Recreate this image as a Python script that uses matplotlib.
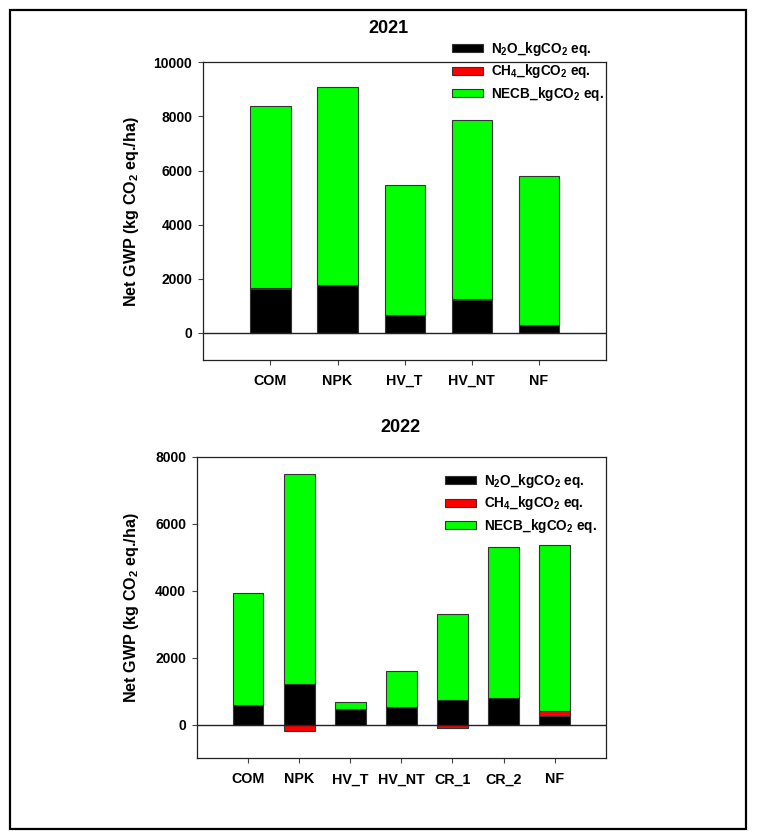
import matplotlib
matplotlib.use('Agg')
import matplotlib.pyplot as plt
from matplotlib.patches import Rectangle
import numpy as np

# values (kg CO2 eq./ha)
cats_2021 = ['COM', 'NPK', 'HV_T', 'HV_NT', 'NF']
n2o_2021 = [1640, 1770, 660, 1200, 300]
ch4_2021 = [20, 0, 0, 40, 10]
necb_2021 = [6730, 7320, 4800, 6630, 5480]

cats_2022 = ['COM', 'NPK', 'HV_T', 'HV_NT', 'CR_1', 'CR_2', 'NF']
n2o_2022 = [600, 1230, 480, 520, 740, 810, 250]
ch4_2022 = [0, -190, 0, 0, -100, 0, 150]
necb_2022 = [3340, 6250, 190, 1080, 2560, 4510, 4970]

labels = [r'N$_2$O_kgCO$_2$ eq.', r'CH$_4$_kgCO$_2$ eq.', r'NECB_kgCO$_2$ eq.']
colors = ['black', '#ff0000', '#00ff00']

plt.rcParams['font.family'] = 'Liberation Sans'
plt.rcParams['font.weight'] = 'bold'
plt.rcParams['mathtext.fontset'] = 'custom'
plt.rcParams['mathtext.rm'] = 'Liberation Sans:bold'
plt.rcParams['mathtext.bf'] = 'Liberation Sans:bold'
plt.rcParams['mathtext.it'] = 'Liberation Sans:bold'
plt.rcParams['mathtext.default'] = 'rm'

W, H = 766, 831
fig = plt.figure(figsize=(W / 100, H / 100), dpi=100)


def px(x0, y0, x1, y1):
    return [x0 / W, 1 - y1 / H, (x1 - x0) / W, (y1 - y0) / H]


def panel(rect, cats, series, ymax, ystep, title, title_xy, leg_xy):
    ax = fig.add_axes(rect)
    x = np.arange(1, len(cats) + 1)
    pos = np.zeros(len(cats))
    neg = np.zeros(len(cats))
    handles = []
    for vals, c in zip(series, colors):
        v = np.array(vals, dtype=float)
        bottom = np.where(v >= 0, pos, neg)
        b = ax.bar(x, v, 0.6, bottom=bottom, color=c, edgecolor='#333333',
                   linewidth=0.8, zorder=3)
        handles.append(b)
        pos = pos + np.where(v >= 0, v, 0)
        neg = neg + np.where(v < 0, v, 0)
    ax.axhline(0, color='#222222', lw=1, zorder=4)
    ax.set_xlim(0, len(cats) + 1)
    ax.set_ylim(-1000, ymax)
    ax.set_yticks(np.arange(0, ymax + 1, ystep))
    ax.set_xticks(x)
    ax.set_xticklabels(cats)
    ax.tick_params(axis='y', labelsize=10, length=3.6, width=0.8,
                   color='#444444', pad=4.3)
    ax.tick_params(axis='x', labelsize=10.3, length=3.6, width=0.8,
                   color='#444444', pad=6.5)
    ax.tick_params(top=False, right=False)
    for s in ax.spines.values():
        s.set_color('#222222')
        s.set_linewidth(0.9)
    for t in ax.get_xticklabels() + ax.get_yticklabels():
        t.set_fontweight('bold')
    fig.text(title_xy[0] / W, 1 - title_xy[1] / H, title, ha='center',
             va='center', fontsize=13, fontweight='bold')
    cy = (1 - (rect[1] + rect[3] / 2))
    fig.text(131.5 / W, 1 - cy, 'Net GWP (kg CO$_2$ eq./ha)', rotation=90,
             ha='center', va='center', fontsize=11.6, fontweight='bold')
    ax.legend(handles, labels, loc='upper left',
              bbox_to_anchor=(leg_xy[0] / W, 1 - leg_xy[1] / H),
              bbox_transform=fig.transFigure, frameon=False,
              borderpad=0, borderaxespad=0, handlelength=2.3,
              handleheight=0.55, handletextpad=0.6, labelspacing=0.33,
              prop={'size': 9.8, 'weight': 'bold'})
    return ax


panel(px(203.3, 62.3, 606, 360), cats_2021,
      [n2o_2021, ch4_2021, necb_2021], 10000, 2000, '2021', (388, 28.5),
      (451.7, 40))
panel(px(197, 457, 605.7, 758.3), cats_2022,
      [n2o_2022, ch4_2022, necb_2022], 8000, 2000, '2022', (400, 427),
      (445, 472))

# outer frame
fig.patches.append(Rectangle((9.5 / W, 1 - 829 / H), (745.5 - 9.5) / W,
                             (829 - 9.5) / H, transform=fig.transFigure,
                             fill=False, edgecolor='black', lw=1.6))

fig.savefig('out.png', dpi=100)
